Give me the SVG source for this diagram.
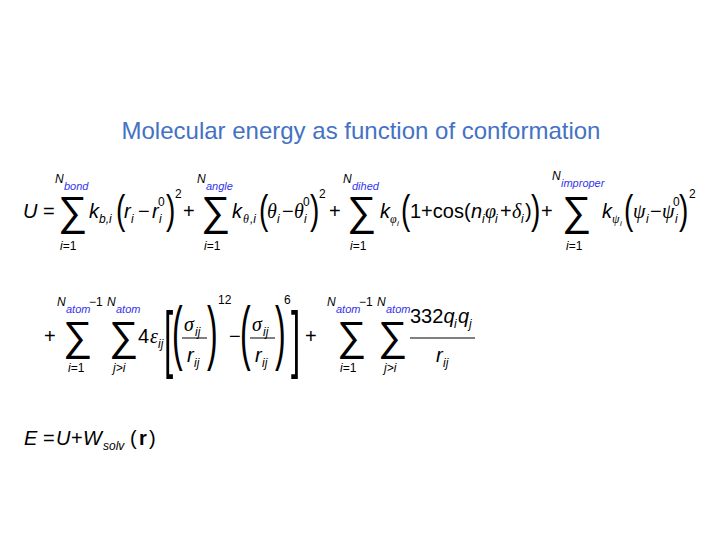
<svg xmlns="http://www.w3.org/2000/svg" width="720" height="540" viewBox="0 0 720 540">
<style>
text{font-family:"Liberation Sans",Arial,sans-serif;fill:#000}
.t{font-size:20px}
.i{font-style:italic}
.g{font-family:"Liberation Serif","Times New Roman",serif;font-style:italic}
.s{font-size:12px}
.b{fill:#3333ee;font-size:11px;font-style:italic}
.sig{font-size:41px}
.p{font-size:28px}
.p2{font-size:32px}
.br{font-size:44px}
.title{font-size:24px;fill:#4472c4}
</style>
<rect width="720" height="540" fill="#fff"/>
<text class="title" x="361" y="139" text-anchor="middle">Molecular energy as function of conformation</text>

<!-- Line 1 -->
<g id="line1">
<text class="t i" x="23" y="218">U</text>
<text class="t" x="43" y="218">=</text>
<text class="sig" x="58" y="225">∑</text>
<text class="s i" x="55" y="183">N</text><text class="b" x="64" y="190">bond</text>
<text class="s" x="60" y="250"><tspan class="i">i</tspan>=1</text>
<text class="t i" x="89" y="218">k</text><text class="s i" x="99" y="223">b,i</text>
<text class="p" transform="translate(116,224) scale(1,1.45)">(</text>
<text class="t i" x="124" y="218">r</text><text class="s i" x="131" y="223">i</text>
<text class="t" x="138" y="218">−</text>
<text class="t i" x="152" y="218">r</text><text class="s i" x="159" y="223">i</text><text class="s" x="158" y="206">0</text>
<text class="p" transform="translate(166,224) scale(1,1.45)">)</text>
<text class="s" x="175" y="198">2</text>
<text class="t" x="183" y="218">+</text>
<text class="sig" x="201" y="225">∑</text>
<text class="s i" x="197" y="183">N</text><text class="b" x="206" y="190">angle</text>
<text class="s" x="204" y="250"><tspan class="i">i</tspan>=1</text>
<text class="t i" x="232" y="218">k</text><text class="s g" x="243" y="223">θ</text><text class="s i" x="250" y="223">,i</text>
<text class="p" transform="translate(259,224) scale(1,1.45)">(</text>
<text class="t g" x="267" y="218">θ</text><text class="s i" x="277" y="223">i</text>
<text class="t" x="282" y="218">−</text>
<text class="t g" x="294" y="218">θ</text><text class="s i" x="304" y="223">i</text><text class="s" x="303" y="206">0</text>
<text class="p" transform="translate(310,224) scale(1,1.45)">)</text>
<text class="s" x="319" y="198">2</text>
<text class="t" x="329" y="218">+</text>
<text class="sig" x="347" y="225">∑</text>
<text class="s i" x="343" y="183">N</text><text class="b" x="352" y="190">dihed</text>
<text class="s" x="350" y="250"><tspan class="i">i</tspan>=1</text>
<text class="t i" x="380" y="218">k</text><text class="s g" x="390" y="223">φ</text><text class="i" style="font-size:8px" x="397" y="226">i</text>
<text class="p" transform="translate(401,224) scale(1,1.45)">(</text>
<text class="t" x="410" y="218">1+cos(</text>
<text class="t i" x="471" y="218">n</text><text class="s i" x="482" y="223">i</text>
<text class="t g" x="485" y="218">φ</text><text class="s i" x="495" y="223">i</text>
<text class="t" x="500" y="218">+</text>
<text class="t g" x="512" y="218">δ</text><text class="s i" x="521" y="223">i</text>
<text class="t" x="525" y="218">)</text>
<text class="p" transform="translate(531,224) scale(1,1.45)">)</text>
<text class="t" x="541" y="218">+</text>
<text class="sig" x="562" y="225">∑</text>
<text class="s i" x="552" y="180">N</text><text class="b" x="561" y="187">improper</text>
<text class="s" x="566" y="250"><tspan class="i">i</tspan>=1</text>
<text class="t i" x="602" y="218">k</text><text class="s g" x="612" y="223">ψ</text><text class="i" style="font-size:8px" x="620" y="226">i</text>
<text class="p" transform="translate(624,224) scale(1,1.45)">(</text>
<text class="t g" x="633" y="218">ψ</text><text class="s i" x="646" y="223">i</text>
<text class="t" x="650" y="218">−</text>
<text class="t g" x="662" y="218">ψ</text><text class="s i" x="675" y="223">i</text><text class="s" x="673" y="206">0</text>
<text class="p" transform="translate(679,224) scale(1,1.45)">)</text>
<text class="s" x="689" y="198">2</text>
</g>

<!-- Line 2 -->
<g id="line2">
<text class="t" x="44" y="343">+</text>
<text class="sig" x="63" y="350">∑</text>
<text class="s i" x="57" y="306">N</text><text class="b" x="66" y="313">atom</text><text class="s" x="89" y="306">−1</text>
<text class="s" x="68" y="372"><tspan class="i">i</tspan>=1</text>
<text class="sig" x="109" y="350">∑</text>
<text class="s i" x="107" y="306">N</text><text class="b" x="116" y="313">atom</text>
<text class="s i" x="113" y="372">j&gt;i</text>
<text class="t" x="138" y="343">4</text><text class="t g" x="150" y="343">ε</text><text class="s i" x="158" y="348">ij</text>
<text class="br" transform="translate(164,364) scale(0.75,1.7)">[</text>
<text class="p2" transform="translate(172,356) scale(1,2.2)">(</text>
<text class="t g" x="184" y="331">σ</text><text class="s i" x="195" y="336">ij</text>
<line x1="182" y1="338" x2="207" y2="338" stroke="#000" stroke-width="1"/>
<text class="t i" x="187" y="362">r</text><text class="s i" x="194" y="367">ij</text>
<text class="p2" transform="translate(207,356) scale(1,2.2)">)</text>
<text class="s" x="218" y="304">12</text>
<text class="t" x="229" y="343">−</text>
<text class="p2" transform="translate(240,356) scale(1,2.2)">(</text>
<text class="t g" x="252" y="331">σ</text><text class="s i" x="263" y="336">ij</text>
<line x1="250" y1="338" x2="275" y2="338" stroke="#000" stroke-width="1"/>
<text class="t i" x="255" y="362">r</text><text class="s i" x="262" y="367">ij</text>
<text class="p2" transform="translate(275,356) scale(1,2.2)">)</text>
<text class="s" x="284" y="304">6</text>
<text class="br" transform="translate(291,364) scale(0.75,1.7)">]</text>
<text class="t" x="305" y="343">+</text>
<text class="sig" x="337" y="350">∑</text>
<text class="s i" x="327" y="306">N</text><text class="b" x="336" y="313">atom</text><text class="s" x="359" y="306">−1</text>
<text class="s" x="340" y="372"><tspan class="i">i</tspan>=1</text>
<text class="sig" x="378" y="350">∑</text>
<text class="s i" x="377" y="306">N</text><text class="b" x="386" y="313">atom</text>
<text class="s i" x="384" y="372">j&gt;i</text>
<text class="t" x="410" y="323">332<tspan class="i">q</tspan></text><text class="s i" x="454" y="328">i</text><text class="t i" x="458" y="323">q</text><text class="s i" x="469" y="328">j</text>
<line x1="410" y1="338" x2="475" y2="338" stroke="#000" stroke-width="1"/>
<text class="t i" x="436" y="362">r</text><text class="s i" x="443" y="367">ij</text>
</g>

<!-- Line 3 -->
<g id="line3">
<text class="t i" x="24" y="445">E</text>
<text class="t" x="43" y="445">=</text>
<text class="t i" x="56" y="445">U</text>
<text class="t" x="71" y="445">+</text>
<text class="t i" x="83" y="445">W</text><text class="s i" x="103" y="450">solv</text>
<text class="t" x="130" y="445">(</text><text class="t" x="139" y="445" font-weight="bold">r</text><text class="t" x="149" y="445">)</text>
</g>
</svg>
